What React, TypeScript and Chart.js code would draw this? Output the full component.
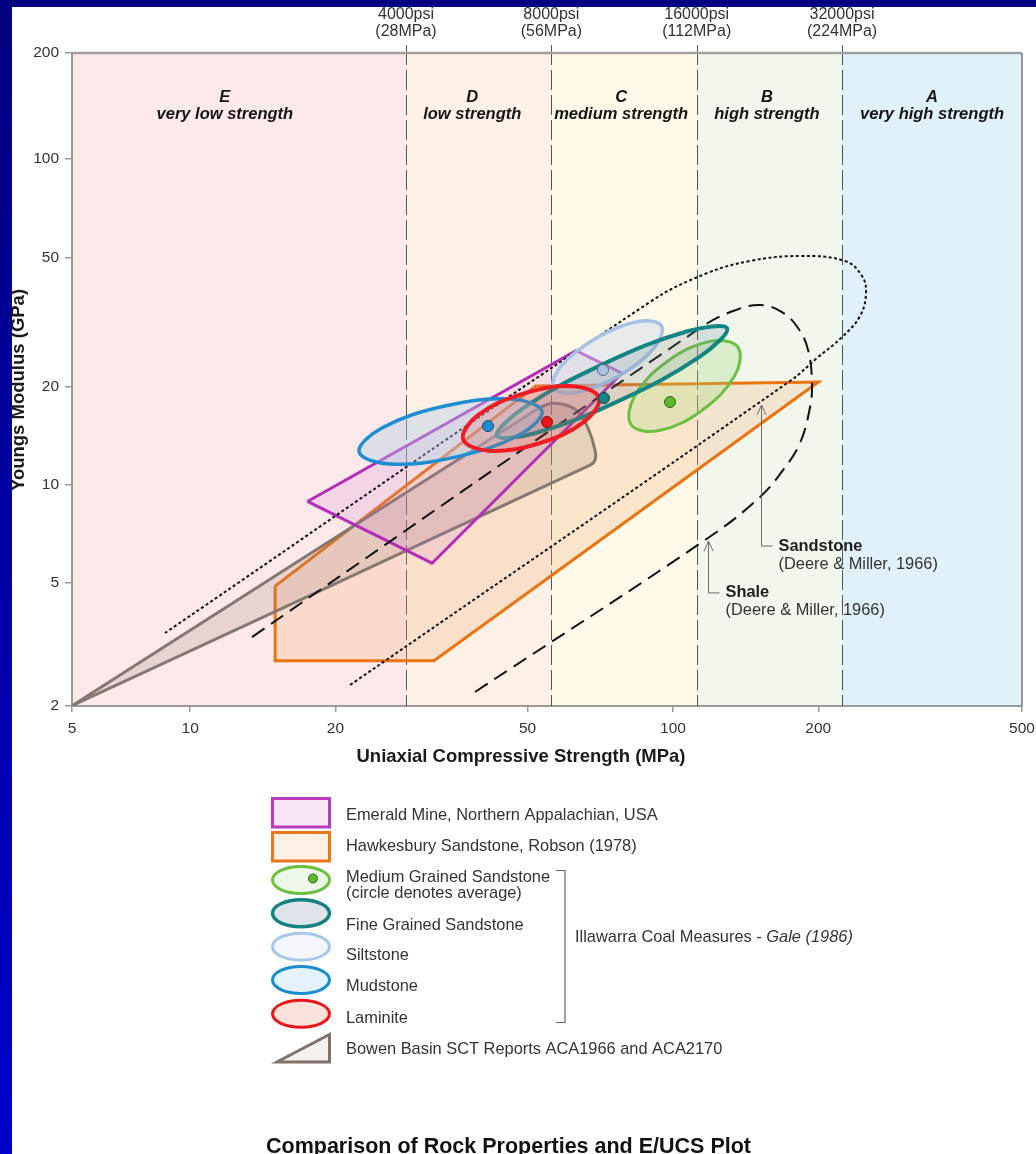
import React, { useEffect, useRef } from 'react';
import { Chart, registerables } from 'chart.js';

Chart.register(...registerables);

const FONT = '"Liberation Sans", Arial, Helvetica, sans-serif';

// ---------- axes ----------
const X_MIN = 5.693;
const X_MAX = 528.4;
const Y_MIN = 2.1;
const Y_MAX = 211.8;
const X_TICKS = [X_MIN, 10, 20, 50, 100, 200, X_MAX];
const X_TICK_LABELS = ['5', '10', '20', '50', '100', '200', '500'];
const Y_TICKS = [Y_MIN, 5, 10, 20, 50, 100, Y_MAX];
const Y_TICK_LABELS = ['2', '5', '10', '20', '50', '100', '200'];

// ---------- strength classes ----------
const ZONE_BOUNDS = [28, 56, 112, 224];
const PSI_LABELS = ['4000psi', '8000psi', '16000psi', '32000psi'];
const MPA_LABELS = ['(28MPa)', '(56MPa)', '(112MPa)', '(224MPa)'];
const ZONE_LETTERS = ['E', 'D', 'C', 'B', 'A'];
const ZONE_NAMES = ['very low strength', 'low strength', 'medium strength', 'high strength', 'very high strength'];
const ZONE_LABEL_UCS = [11.8, 38.4, 78.1, 156.6, 344.1];
const ZONE_COLORS = ['#fde8ea', '#fdf0e6', '#fef9e9', '#f1f7ed', '#e0f1f9'];

// ---------- polygons (UCS MPa, E GPa) ----------
const HAWK_UCS = [15, 52, 200, 32, 15, 15];
const HAWK_E = [4.9, 20.14, 20.72, 2.89, 2.89, 4.9];
const EMER_UCS = [17.5, 63, 78.4, 31.7, 17.5];
const EMER_E = [8.91, 25.84, 22.04, 5.76, 8.91];
const BOWEN_UCS = [5.71, 52.05, 55.91, 60.05, 63.59, 66.7, 68.96, 68.96, 67.34, 5.71];
const BOWEN_E = [2.11, 17.0, 17.8, 17.61, 16.76, 14.97, 12.82, 11.94, 11.52, 2.11];

// ---------- Deere & Miller envelopes ----------
const SAND_UCS = [21.44, 174.8, 198.8, 224.0, 244.1, 251.1, 246.4, 227.2, 183.3, 144.4, 116.5, 89.64, 8.87];
const SAND_E = [2.435, 20.87, 24.54, 28.47, 33.03, 38.86, 43.82, 48.72, 50.46, 48.72, 44.44, 36.47, 3.517];
const SHALE_UCS = [38.91, 118.2, 151.5, 169.0, 183.3, 192.3, 194.1, 190.5, 181.6, 168.2, 151.5, 133.2, 113.8, 13.43];
const SHALE_E = [2.319, 6.882, 9.194, 11.12, 13.46, 17.36, 20.57, 25.98, 30.34, 33.97, 35.69, 34.21, 30.34, 3.418];

// ---------- Illawarra Coal Measures (Gale 1986) outlines ----------
const MUD_UCS = [53.56, 48.04, 35.57, 25.92, 22.38, 24.95, 33.69, 46.24];
const MUD_E = [16.86, 14.25, 12.21, 11.61, 12.64, 14.97, 17.48, 18.37];
const LAM_UCS = [70.26, 65.56, 52.7, 41.48, 36.76, 39.39, 49.01, 62.27];
const LAM_E = [18.53, 15.67, 13.42, 12.75, 13.83, 16.36, 19.09, 20.11];
const FINE_UCS = [129.5, 113.5, 77.88, 52.2, 43.19, 49.29, 71.85, 107.1];
const FINE_E = [30.28, 24.74, 18.23, 14.48, 14.18, 17.35, 23.55, 29.65];
const SILT_UCS = [94.7, 91.15, 77.14, 63.32, 56.58, 58.78, 69.46, 84.62];
const SILT_E = [30.8, 26.25, 21.61, 19.24, 19.84, 23.28, 28.29, 31.77];
const MED_UCS = [136.3, 134.3, 115.0, 93.71, 81.96, 83.18, 97.12, 119.2];
const MED_E = [26.51, 21.68, 16.98, 14.7, 15.3, 18.71, 23.9, 27.61];

// averages: medium, fine, silt, mud, laminite
const AVG_UCS = [98.62, 71.98, 71.64, 41.4, 54.85];
const AVG_E = [17.99, 18.5, 22.56, 15.18, 15.62];
const AVG_FILL = ['#5cb82c', '#138585', '#aac3e3', '#1b8dd0', '#ec1515'];
const AVG_EDGE = ['#2d6a12', '#0a4545', '#5a6a80', '#1d4a6a', '#8a1010'];

// annotation arrows
const ARROW_UCS = [152.2, 118.2];
const ARROW_TIP_E = [17.61, 6.734];
const ARROW_BASE_E = [6.502, 4.669];
const ARROW_TITLES = ['Sandstone', 'Shale'];
const ARROW_SUBS = ['(Deere & Miller, 1966)', '(Deere & Miller, 1966)'];

function pathData(xs: number[], ys: number[]) {
  return xs.map((x, i) => ({ x, y: ys[i] }));
}

function loopData(xs: number[], ys: number[]) {
  const n = xs.length;
  const idx = [n - 1, ...xs.map((_, i) => i), 0, 1];
  return idx.map((i) => ({ x: xs[i], y: ys[i] }));
}

function polygon(label: string, xs: number[], ys: number[], stroke: string, fill: string, order: number, tension = 0) {
  return {
    label,
    data: pathData(xs, ys),
    showLine: true,
    fill: 'shape',
    tension,
    borderColor: stroke,
    backgroundColor: fill,
    borderWidth: 3,
    borderJoinStyle: 'miter',
    pointRadius: 0,
    pointHoverRadius: 0,
    order,
  };
}

function ellipse(label: string, xs: number[], ys: number[], stroke: string, fill: string, width: number, order: number) {
  const data = loopData(xs, ys);
  const hide = (ctx: any) =>
    ctx.p0DataIndex === 0 || ctx.p1DataIndex === data.length - 1 ? 'rgba(0,0,0,0)' : undefined;
  return {
    label,
    data,
    showLine: true,
    fill: 'shape',
    tension: 0.38,
    borderColor: stroke,
    backgroundColor: fill,
    borderWidth: width,
    pointRadius: 0,
    pointHoverRadius: 0,
    order,
    segment: { borderColor: hide, backgroundColor: hide },
  };
}

function curve(label: string, xs: number[], ys: number[], dash: number[], order: number) {
  return {
    label,
    data: pathData(xs, ys),
    showLine: true,
    fill: false,
    tension: 0.4,
    borderColor: '#111111',
    borderWidth: 2,
    borderDash: dash,
    pointRadius: 0,
    pointHoverRadius: 0,
    order,
  };
}

const decor = {
  id: 'rockDecor',
  beforeDraw(chart: any) {
    const { ctx, chartArea: a, scales } = chart;
    const x = scales.x;
    const edges = [a.left, ...ZONE_BOUNDS.map((v) => x.getPixelForValue(v)), a.right];
    ctx.save();
    ZONE_COLORS.forEach((c, i) => {
      ctx.fillStyle = c;
      ctx.fillRect(edges[i], a.top, edges[i + 1] - edges[i], a.bottom - a.top);
    });
    ctx.restore();
  },
  beforeDatasetsDraw(chart: any) {
    const { ctx, chartArea: a, scales } = chart;
    const x = scales.x;
    ctx.save();
    ctx.strokeStyle = '#555555';
    ctx.lineWidth = 1;
    ctx.setLineDash([20, 5]);
    ZONE_BOUNDS.forEach((v) => {
      const px = Math.round(x.getPixelForValue(v)) + 0.5;
      ctx.beginPath();
      ctx.moveTo(px, a.top - 8);
      ctx.lineTo(px, a.bottom);
      ctx.stroke();
    });
    ctx.setLineDash([]);
    ctx.fillStyle = '#151515';
    ctx.textAlign = 'center';
    ctx.textBaseline = 'middle';
    ctx.font = `italic bold 16.5px ${FONT}`;
    ZONE_LETTERS.forEach((l, i) => {
      const px = x.getPixelForValue(ZONE_LABEL_UCS[i]);
      ctx.fillText(l, px, a.top + 44);
      ctx.fillText(ZONE_NAMES[i], px, a.top + 61);
    });
    ctx.restore();
  },
  afterDraw(chart: any) {
    const { ctx, chartArea: a, scales } = chart;
    const x = scales.x;
    const y = scales.y;
    ctx.save();
    // frame top & right
    ctx.strokeStyle = '#a0a0a0';
    ctx.lineWidth = 2.5;
    ctx.beginPath();
    ctx.moveTo(a.left, a.top);
    ctx.lineTo(a.right, a.top);
    ctx.stroke();
    ctx.strokeStyle = '#777777';
    ctx.lineWidth = 1.5;
    ctx.beginPath();
    ctx.moveTo(a.right, a.top);
    ctx.lineTo(a.right, a.bottom);
    ctx.stroke();

    // psi labels
    ctx.fillStyle = '#333333';
    ctx.textAlign = 'center';
    ctx.textBaseline = 'middle';
    ctx.font = `16px ${FONT}`;
    ZONE_BOUNDS.forEach((v, i) => {
      const px = x.getPixelForValue(v);
      ctx.fillText(PSI_LABELS[i], px, a.top - 38);
      ctx.fillText(MPA_LABELS[i], px, a.top - 21.5);
    });

    // arrows
    ARROW_UCS.forEach((u, i) => {
      const px = Math.round(x.getPixelForValue(u)) + 0.5;
      const ty = y.getPixelForValue(ARROW_TIP_E[i]);
      const by = y.getPixelForValue(ARROW_BASE_E[i]);
      ctx.strokeStyle = '#6a6a6a';
      ctx.lineWidth = 1;
      ctx.beginPath();
      ctx.moveTo(px, ty);
      ctx.lineTo(px, by);
      ctx.lineTo(px + 11, by);
      ctx.stroke();
      ctx.beginPath();
      ctx.moveTo(px - 4.5, ty + 10);
      ctx.lineTo(px, ty);
      ctx.lineTo(px + 4.5, ty + 10);
      ctx.stroke();
      ctx.textAlign = 'left';
      ctx.fillStyle = '#1e1e1e';
      ctx.font = `bold 16.4px ${FONT}`;
      ctx.fillText(ARROW_TITLES[i], px + 17, by);
      ctx.fillStyle = '#333333';
      ctx.font = `16.4px ${FONT}`;
      ctx.fillText(ARROW_SUBS[i], px + 17, by + 18);
    });

    // axis titles
    ctx.fillStyle = '#1a1a1a';
    ctx.textAlign = 'center';
    ctx.font = `bold 18.5px ${FONT}`;
    ctx.fillText('Uniaxial Compressive Strength (MPa)', 521, 757);
    ctx.save();
    ctx.translate(18.5, 390);
    ctx.rotate(-Math.PI / 2);
    ctx.fillText('Youngs Modulus (GPa)', 0, 0);
    ctx.restore();

    drawLegend(ctx);

    // title
    ctx.fillStyle = '#111111';
    ctx.textAlign = 'center';
    ctx.textBaseline = 'alphabetic';
    ctx.font = `bold 21.5px ${FONT}`;
    ctx.fillText('Comparison of Rock Properties and E/UCS Plot', 508.5, 1153);
    ctx.restore();
  },
};

function drawLegend(ctx: CanvasRenderingContext2D) {
  const textX = 346;
  const text = (s: string, ty: number) => {
    ctx.font = `16.4px ${FONT}`;
    ctx.fillStyle = '#333333';
    ctx.textAlign = 'left';
    ctx.textBaseline = 'middle';
    ctx.fillText(s, textX, ty);
  };
  const rect = (top: number, fill: string, stroke: string) => {
    ctx.fillStyle = fill;
    ctx.strokeStyle = stroke;
    ctx.lineWidth = 3;
    ctx.fillRect(272.5, top + 1.5, 57, 28.5);
    ctx.strokeRect(272.5, top + 1.5, 57, 28.5);
  };
  const oval = (cy: number, fill: string, stroke: string, w = 3) => {
    ctx.fillStyle = fill;
    ctx.strokeStyle = stroke;
    ctx.lineWidth = w;
    ctx.beginPath();
    ctx.ellipse(301, cy, 28.5, 13.5, 0, 0, Math.PI * 2);
    ctx.fill();
    ctx.stroke();
  };
  ctx.save();
  ctx.setLineDash([]);
  rect(797, '#f6e4f6', '#b83cbc');
  text('Emerald Mine, Northern Appalachian, USA', 815);
  rect(831, '#fdf0e4', '#e8781e');
  text('Hawkesbury Sandstone, Robson (1978)', 846.5);
  oval(880, '#eef8e8', '#6cc040');
  ctx.fillStyle = '#5cb82c';
  ctx.strokeStyle = '#2d6a12';
  ctx.lineWidth = 1;
  ctx.beginPath();
  ctx.arc(313, 878.5, 4.5, 0, Math.PI * 2);
  ctx.fill();
  ctx.stroke();
  text('Medium Grained Sandstone', 877.5);
  text('(circle denotes average)', 893.5);
  oval(913.3, '#dfe4ea', '#14807f', 3.5);
  text('Fine Grained Sandstone', 925);
  oval(946.7, '#f3f7fc', '#a9c6e8');
  text('Siltstone', 955.5);
  oval(980, '#e3f2fb', '#1b8dcf');
  text('Mudstone', 986.5);
  oval(1013.8, '#fbe2da', '#e8171e');
  text('Laminite', 1018.5);
  ctx.fillStyle = '#f4f1ee';
  ctx.strokeStyle = '#7e726b';
  ctx.lineWidth = 3;
  ctx.beginPath();
  ctx.moveTo(277, 1062);
  ctx.lineTo(329.5, 1062);
  ctx.lineTo(329.5, 1034.5);
  ctx.closePath();
  ctx.fill();
  ctx.stroke();
  text('Bowen Basin SCT Reports ACA1966 and ACA2170', 1049.5);

  // bracket
  ctx.strokeStyle = '#666666';
  ctx.lineWidth = 1.2;
  ctx.beginPath();
  ctx.moveTo(556, 870.5);
  ctx.lineTo(565, 870.5);
  ctx.lineTo(565, 1022.5);
  ctx.lineTo(556, 1022.5);
  ctx.stroke();
  ctx.font = `16.4px ${FONT}`;
  ctx.fillStyle = '#333333';
  ctx.textAlign = 'left';
  ctx.textBaseline = 'middle';
  const first = 'Illawarra Coal Measures - ';
  ctx.fillText(first, 575, 937.5);
  const w = ctx.measureText(first).width;
  ctx.font = `italic 16.4px ${FONT}`;
  ctx.fillText('Gale (1986)', 575 + w, 937.5);
  ctx.restore();
}

export default function App() {
  const ref = useRef<HTMLCanvasElement | null>(null);

  useEffect(() => {
    if (!ref.current) return;
    Chart.defaults.font.family = FONT;
    const datasets: any[] = [
      {
        label: 'Averages',
        data: pathData(AVG_UCS, AVG_E),
        showLine: false,
        pointRadius: 5.5,
        pointHoverRadius: 5.5,
        pointBackgroundColor: AVG_FILL,
        pointBorderColor: AVG_EDGE,
        pointBorderWidth: 1,
        order: 0,
      },
      ellipse('Laminite', LAM_UCS, LAM_E, '#ee1c24', 'rgba(225,95,85,0.2)', 4, 1),
      ellipse('Mudstone', MUD_UCS, MUD_E, '#1d8ed0', 'rgba(175,205,230,0.4)', 3.5, 2),
      ellipse('Fine Grained Sandstone', FINE_UCS, FINE_E, '#138585', 'rgba(110,135,150,0.22)', 4, 3),
      ellipse('Siltstone', SILT_UCS, SILT_E, '#a5c3e6', 'rgba(205,218,238,0.45)', 3.5, 4),
      ellipse('Medium Grained Sandstone', MED_UCS, MED_E, '#6cc040', 'rgba(160,215,120,0.28)', 3, 5),
      curve('Shale (Deere & Miller, 1966)', SHALE_UCS, SHALE_E, [15, 8], 6),
      curve('Sandstone (Deere & Miller, 1966)', SAND_UCS, SAND_E, [3, 2.5], 7),
      polygon('Emerald Mine', EMER_UCS, EMER_E, '#b32db8', 'rgba(200,120,210,0.16)', 8),
      polygon('Bowen Basin', BOWEN_UCS, BOWEN_E, '#857870', 'rgba(140,115,105,0.18)', 9, 0.3),
      polygon('Hawkesbury Sandstone', HAWK_UCS, HAWK_E, '#ec7410', 'rgba(245,175,120,0.25)', 10),
    ];

    const chart = new Chart(ref.current, {
      type: 'scatter',
      data: { datasets },
      options: {
        animation: false,
        responsive: false,
        maintainAspectRatio: false,
        events: [],
        layout: { padding: { top: 53, left: 0, right: 14, bottom: 418 } },
        plugins: {
          legend: { display: false },
          tooltip: { enabled: false },
          title: { display: false },
        },
        scales: {
          x: {
            type: 'logarithmic',
            position: 'bottom',
            min: X_MIN,
            max: X_MAX,
            afterBuildTicks: (s: any) => {
              s.ticks = X_TICKS.map((v) => ({ value: v }));
            },
            afterFit: (s: any) => {
              s.height = 30;
              s.paddingLeft = 0;
              s.paddingRight = 0;
            },
            ticks: {
              autoSkip: false,
              maxRotation: 0,
              minRotation: 0,
              padding: 7,
              color: '#333333',
              font: { size: 15.5, family: FONT },
              callback: (_v: any, i: number) => X_TICK_LABELS[i],
            },
            grid: { drawOnChartArea: false, drawTicks: true, tickLength: 6, color: '#9a9a9a', lineWidth: 1.5 },
            border: { display: true, color: '#9a9a9a', width: 2 },
          },
          y: {
            type: 'logarithmic',
            position: 'left',
            min: Y_MIN,
            max: Y_MAX,
            afterBuildTicks: (s: any) => {
              s.ticks = Y_TICKS.map((v) => ({ value: v }));
            },
            afterFit: (s: any) => {
              s.width = 72;
              s.paddingTop = 0;
              s.paddingBottom = 0;
            },
            ticks: {
              autoSkip: false,
              padding: 6,
              color: '#333333',
              font: { size: 15.5, family: FONT },
              callback: (_v: any, i: number) => Y_TICK_LABELS[i],
            },
            grid: { drawOnChartArea: false, drawTicks: true, tickLength: 7, color: '#9a9a9a', lineWidth: 1.5 },
            border: { display: true, color: '#9a9a9a', width: 2 },
          },
        },
      } as any,
      plugins: [decor as any],
    });
    return () => chart.destroy();
  }, []);

  return (
    <div
      style={{
        position: 'absolute',
        left: 0,
        top: 0,
        width: 1036,
        height: 1154,
        overflow: 'hidden',
        background: '#ffffff',
      }}
    >
      <div style={{ position: 'absolute', left: 0, top: 0, width: 1036, height: 7, background: '#000080' }} />
      <div
        style={{
          position: 'absolute',
          left: 0,
          top: 0,
          width: 12,
          height: 1154,
          background: 'linear-gradient(to bottom, #000080, #0000cc)',
        }}
      />
      <canvas
        ref={ref}
        width={1036}
        height={1154}
        style={{ position: 'absolute', left: 0, top: 0, width: 1036, height: 1154 }}
      />
    </div>
  );
}
